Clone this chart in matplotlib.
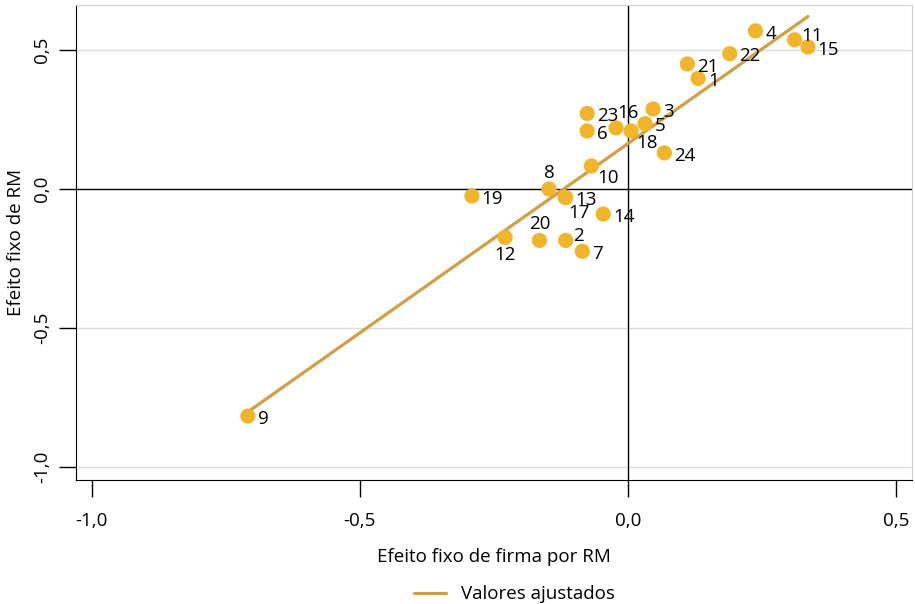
import numpy as np
import matplotlib.pyplot as plt

plt.rcParams['font.family'] = ['Open Sans', 'DejaVu Sans']

# Fixed effects per metropolitan region (RM)
rm_ids = [1, 2, 3, 4, 5, 6, 7, 8, 9, 10, 11, 12,
          13, 14, 15, 16, 17, 18, 19, 20, 21, 22, 23, 24]
firm_fe = [0.131, -0.116, 0.047, 0.238, 0.032, -0.076, -0.085, -0.147,
           -0.709, -0.068, 0.311, -0.229, -0.116, -0.046, 0.336, -0.022,
           -0.117, 0.006, -0.291, -0.165, 0.111, 0.190, -0.076, 0.068]
rm_fe = [0.397, -0.186, 0.287, 0.568, 0.234, 0.208, -0.225, -0.001,
         -0.818, 0.082, 0.536, -0.175, -0.032, -0.091, 0.510, 0.219,
         -0.030, 0.208, -0.026, -0.186, 0.449, 0.486, 0.271, 0.129]

x_ticks = [-1.0, -0.5, 0.0, 0.5]
y_ticks = [-1.0, -0.5, 0.0, 0.5]

# label placement (clock position, Stata style)
label_clock = {2: 2, 8: 12, 10: 4, 11: 2, 12: 6, 16: 1, 17: 5, 18: 4, 20: 12}
clock_style = {
    3: ((7, -2), 'left', 'center'),
    4: ((4, -2), 'left', 'top'),
    5: ((2, -5), 'left', 'top'),
    2: ((5, 3), 'left', 'center'),
    1: ((1, 4), 'left', 'bottom'),
    12: ((0, 5), 'center', 'bottom'),
    6: ((0, -6), 'center', 'top'),
}

marker_color = '#F1B52C'
line_color = '#CFA044'
fs = 13.5

x = np.array(firm_fe)
y = np.array(rm_fe)
slope, intercept = np.polyfit(x, y, 1)
xl = np.array([x.min(), x.max()])

fig = plt.figure(figsize=(9.15, 6.04), dpi=100)
ax = fig.add_axes([0.0834, 0.2053, 0.9133, 0.7859])

ax.axhline(0, color='black', lw=1, zorder=1)
ax.axvline(0, color='black', lw=1, zorder=1)
for yt in [-1.0, -0.5, 0.5]:
    ax.axhline(yt, color='#DCDCDC', lw=1, zorder=0)

ax.plot(xl, slope * xl + intercept, color=line_color, lw=2.3,
        solid_capstyle='round', zorder=2, label='Valores ajustados')
ax.scatter(x, y, s=120, color=marker_color, edgecolors='none', zorder=3)

for i, xi, yi in zip(rm_ids, x, y):
    (dx, dy), ha, va = clock_style[label_clock.get(i, 3)]
    ax.annotate(str(i), (xi, yi), xytext=(dx, dy), textcoords='offset points',
                ha=ha, va=va, fontsize=fs, color='black', zorder=4)

ax.set_xlim(-1.029, 0.530)
ax.set_ylim(-1.048, 0.660)
ax.set_xticks(x_ticks)
ax.set_yticks(y_ticks)
ax.set_xticklabels([f'{v:.1f}'.replace('.', ',') for v in x_ticks])
ax.set_yticklabels([f'{v:.1f}'.replace('.', ',') for v in y_ticks],
                   rotation=90, va='center')
ax.tick_params(axis='both', length=12, width=1, color='black', labelsize=fs)
ax.tick_params(axis='x', pad=11)
ax.tick_params(axis='y', pad=6)

for s in ['top', 'right']:
    ax.spines[s].set_color('#D0D0D0')
for s in ['left', 'bottom']:
    ax.spines[s].set_color('black')

ax.set_xlabel('Efeito fixo de firma por RM', fontsize=fs, labelpad=13)
ax.set_ylabel('Efeito fixo de RM', fontsize=fs, labelpad=6)

fig.legend(loc='lower center', bbox_to_anchor=(0.562, -0.027), frameon=False,
           fontsize=fs, handlelength=1.7)

fig.savefig('out.png', dpi=100)
